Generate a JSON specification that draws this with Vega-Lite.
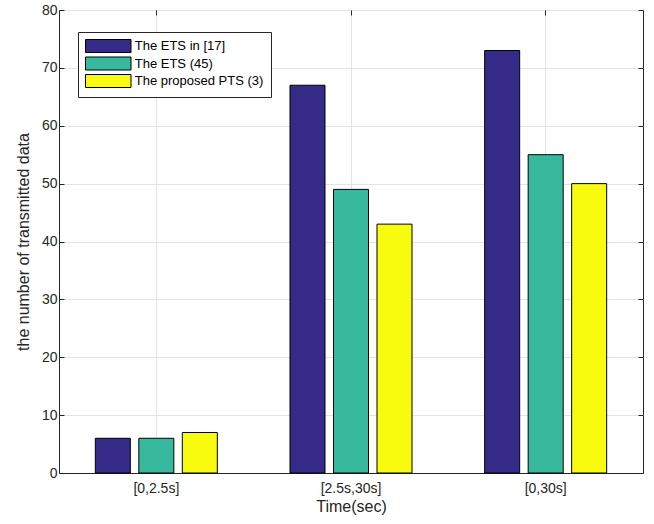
{
  "$schema": "https://vega.github.io/schema/vega-lite/v6.json",
  "width": 584,
  "height": 463,
  "autosize": "none",
  "padding": {"left": 59, "top": 10, "right": 11, "bottom": 51},
  "background": "white",
  "config": {
    "font": "Liberation Sans",
    "view": {"stroke": "#262626", "strokeWidth": 1},
    "axis": {
      "labelFont": "Liberation Sans",
      "titleFont": "Liberation Sans",
      "labelFontSize": 14,
      "titleFontSize": 16,
      "titleFontWeight": "normal",
      "labelColor": "#262626",
      "titleColor": "#262626",
      "domainColor": "#262626",
      "tickColor": "#262626",
      "gridColor": "#e3e3e3",
      "gridWidth": 1
    },
    "legend": {
      "labelFont": "Liberation Sans",
      "labelFontSize": 13,
      "labelColor": "#000000"
    }
  },
  "data": {
    "values": [
      {"cat": "[0,2.5s]", "series": "The ETS in [17]", "value": 6},
      {"cat": "[0,2.5s]", "series": "The ETS (45)", "value": 6},
      {"cat": "[0,2.5s]", "series": "The proposed PTS (3)", "value": 7},
      {"cat": "[2.5s,30s]", "series": "The ETS in [17]", "value": 67},
      {"cat": "[2.5s,30s]", "series": "The ETS (45)", "value": 49},
      {"cat": "[2.5s,30s]", "series": "The proposed PTS (3)", "value": 43},
      {"cat": "[0,30s]", "series": "The ETS in [17]", "value": 73},
      {"cat": "[0,30s]", "series": "The ETS (45)", "value": 55},
      {"cat": "[0,30s]", "series": "The proposed PTS (3)", "value": 50}
    ]
  },
  "layer": [
    {
      "mark": {"type": "bar", "stroke": "#000000", "strokeWidth": 1},
      "encoding": {
        "x": {
          "field": "cat", "type": "nominal", "sort": null,
          "scale": {"paddingInner": 0, "paddingOuter": 0},
          "axis": {"title": "Time(sec)", "labelAngle": 0, "grid": true, "tickSize": -5, "labelPadding": 13, "titlePadding": 3, "domain": true}
        },
        "xOffset": {
          "field": "series", "type": "nominal", "sort": null,
          "scale": {"paddingInner": 0.195, "paddingOuter": 0.835}
        },
        "y": {
          "field": "value", "type": "quantitative",
          "scale": {"domain": [0, 80], "nice": false},
          "axis": {"title": "the number of transmitted data", "values": [0,10,20,30,40,50,60,70,80], "grid": true, "tickSize": -5, "labelPadding": 7, "titlePadding": 10}
        },
        "color": {
          "field": "series", "type": "nominal", "sort": null,
          "scale": {"range": ["#352a87", "#38b99e", "#f9fb0e"]},
          "legend": {
            "title": null,
            "orient": "none",
            "legendX": 19,
            "legendY": 22,
            "direction": "vertical",
            "strokeColor": "#262626",
            "fillColor": "white",
            "padding": 7,
            "symbolType": "M-3.5,-1H3.5V1H-3.5Z",
            "symbolSize": 169,
            "symbolOffset": 16.25,
            "symbolStrokeColor": "#000000",
            "symbolStrokeWidth": 1,
            "symbolFillOpacity": 1,
            "symbolOpacity": 1,
            "labelOffset": 19.5,
            "rowPadding": -0.5
          }
        }
      }
    },
    {
      "mark": {"type": "bar", "opacity": 0},
      "encoding": {
        "x": {
          "field": "cat", "type": "nominal", "sort": null,
          "scale": {"paddingInner": 0, "paddingOuter": 0},
          "axis": {"orient": "top", "title": null, "labels": false, "grid": false, "tickSize": -5, "domain": false}
        },
        "y": {
          "field": "value", "type": "quantitative",
          "scale": {"domain": [0, 80], "nice": false},
          "axis": {"orient": "right", "title": null, "labels": false, "values": [0,10,20,30,40,50,60,70,80], "grid": false, "tickSize": -5, "domain": false}
        }
      }
    }
  ],
  "resolve": {"axis": {"x": "independent", "y": "independent"}}
}
